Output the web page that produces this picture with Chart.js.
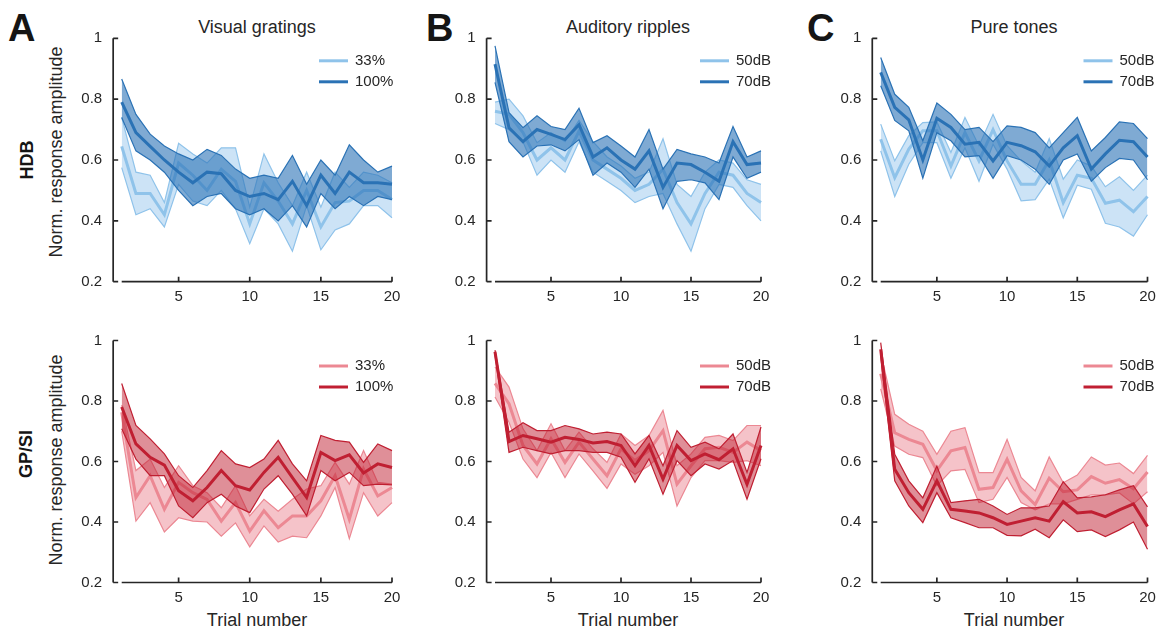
<!DOCTYPE html>
<html>
<head>
<meta charset="utf-8">
<script src="https://cdn.jsdelivr.net/npm/chart.js@4.4.1/dist/chart.umd.min.js"></script>
<style>
  html, body { margin: 0; padding: 0; background: #fff; }
  body { width: 1157px; height: 631px; position: relative; overflow: hidden;
         font-family: "Liberation Sans", Arial, sans-serif; color: #262626; }
  canvas { position: absolute; }
  .lbl { position: absolute; white-space: nowrap; line-height: 1; }
  .letter { font-size: 38px; font-weight: bold; color: #151515; }
  .title { font-size: 18px; transform: translateX(-50%); }
  .xlab { font-size: 18px; transform: translateX(-50%); }
  .ylab { font-size: 18px; transform: translate(-50%, -50%) rotate(-90deg); }
  .row { font-size: 18px; font-weight: bold; color: #151515; transform: translate(-50%, -50%) rotate(-90deg); }
</style>
</head>
<body>
<div class="lbl letter" style="left:8px;top:9px">A</div>
<div class="lbl letter" style="left:426px;top:9px">B</div>
<div class="lbl letter" style="left:807px;top:9px">C</div>

<div class="lbl title" style="left:257px;top:18px">Visual gratings</div>
<div class="lbl title" style="left:628px;top:18px">Auditory ripples</div>
<div class="lbl title" style="left:1014px;top:18px">Pure tones</div>

<div class="lbl row" style="left:27px;top:160px">HDB</div>
<div class="lbl row" style="left:26px;top:454px">GP/SI</div>
<div class="lbl ylab" style="left:56px;top:152px">Norm. response amplitude</div>
<div class="lbl ylab" style="left:56px;top:460px">Norm. response amplitude</div>

<div class="lbl xlab" style="left:257px;top:611px">Trial number</div>
<div class="lbl xlab" style="left:628px;top:611px">Trial number</div>
<div class="lbl xlab" style="left:1014px;top:611px">Trial number</div>

<script>
// Trials and axis ticks
const trials = [1, 2, 3, 4, 5, 6, 7, 8, 9, 10, 11, 12, 13, 14, 15, 16, 17, 18, 19, 20];
const xTicks = [5, 10, 15, 20];
const yTicks = [0.2, 0.4, 0.6, 0.8, 1];
const xMin = 0.4;

// HDB - visual gratings
const hdbVis33Mean  = [0.645, 0.49, 0.49, 0.42, 0.59, 0.55, 0.50, 0.57, 0.53, 0.39, 0.525, 0.465, 0.39, 0.50, 0.38, 0.46, 0.465, 0.50, 0.50, 0.47];
const hdbVis33Upper = [0.74, 0.56, 0.55, 0.46, 0.655, 0.62, 0.59, 0.64, 0.64, 0.445, 0.62, 0.525, 0.45, 0.56, 0.445, 0.56, 0.51, 0.56, 0.55, 0.525];
const hdbVis33Lower = [0.575, 0.42, 0.44, 0.38, 0.52, 0.465, 0.45, 0.50, 0.44, 0.325, 0.44, 0.39, 0.30, 0.45, 0.305, 0.37, 0.39, 0.45, 0.45, 0.41];
const hdbVis100Mean  = [0.79, 0.69, 0.645, 0.60, 0.56, 0.525, 0.56, 0.555, 0.50, 0.48, 0.49, 0.47, 0.53, 0.45, 0.55, 0.49, 0.56, 0.525, 0.525, 0.52];
const hdbVis100Upper = [0.866, 0.75, 0.685, 0.646, 0.62, 0.60, 0.635, 0.615, 0.57, 0.54, 0.55, 0.54, 0.615, 0.52, 0.60, 0.55, 0.65, 0.60, 0.56, 0.58];
const hdbVis100Lower = [0.74, 0.63, 0.60, 0.56, 0.50, 0.45, 0.48, 0.49, 0.44, 0.42, 0.44, 0.40, 0.45, 0.38, 0.49, 0.44, 0.48, 0.45, 0.48, 0.47];

// HDB - auditory ripples
const hdbRip50Mean  = [0.76, 0.75, 0.69, 0.60, 0.64, 0.60, 0.695, 0.60, 0.57, 0.54, 0.50, 0.52, 0.57, 0.46, 0.39, 0.49, 0.56, 0.55, 0.49, 0.46];
const hdbRip50Upper = [0.79, 0.80, 0.745, 0.657, 0.69, 0.66, 0.73, 0.66, 0.61, 0.58, 0.54, 0.56, 0.67, 0.52, 0.48, 0.56, 0.60, 0.59, 0.535, 0.52];
const hdbRip50Lower = [0.72, 0.70, 0.66, 0.55, 0.60, 0.56, 0.66, 0.56, 0.53, 0.50, 0.46, 0.48, 0.49, 0.39, 0.30, 0.44, 0.52, 0.51, 0.45, 0.40];
const hdbRip70Mean  = [0.915, 0.706, 0.66, 0.70, 0.684, 0.667, 0.716, 0.61, 0.64, 0.60, 0.57, 0.63, 0.51, 0.59, 0.585, 0.56, 0.53, 0.66, 0.585, 0.59];
const hdbRip70Upper = [0.975, 0.756, 0.706, 0.745, 0.71, 0.70, 0.77, 0.657, 0.68, 0.646, 0.61, 0.70, 0.57, 0.635, 0.62, 0.61, 0.59, 0.71, 0.61, 0.63];
const hdbRip70Lower = [0.855, 0.66, 0.61, 0.646, 0.65, 0.63, 0.667, 0.55, 0.59, 0.56, 0.51, 0.57, 0.44, 0.53, 0.535, 0.525, 0.47, 0.61, 0.54, 0.56];

// HDB - pure tones
const hdbTone50Mean  = [0.668, 0.542, 0.636, 0.696, 0.696, 0.58, 0.69, 0.597, 0.70, 0.597, 0.52, 0.52, 0.60, 0.46, 0.55, 0.54, 0.458, 0.468, 0.43, 0.48];
const hdbTone50Upper = [0.718, 0.597, 0.68, 0.723, 0.725, 0.625, 0.74, 0.647, 0.75, 0.647, 0.597, 0.56, 0.67, 0.537, 0.60, 0.58, 0.512, 0.545, 0.50, 0.55];
const hdbTone50Lower = [0.63, 0.48, 0.586, 0.657, 0.657, 0.54, 0.64, 0.53, 0.652, 0.57, 0.466, 0.47, 0.537, 0.41, 0.517, 0.504, 0.392, 0.38, 0.35, 0.42];
const hdbTone70Mean  = [0.888, 0.773, 0.732, 0.60, 0.737, 0.707, 0.652, 0.658, 0.597, 0.658, 0.647, 0.627, 0.58, 0.64, 0.68, 0.57, 0.62, 0.665, 0.66, 0.61];
const hdbTone70Upper = [0.937, 0.816, 0.773, 0.663, 0.787, 0.75, 0.70, 0.707, 0.66, 0.712, 0.707, 0.69, 0.64, 0.69, 0.74, 0.63, 0.674, 0.725, 0.72, 0.67];
const hdbTone70Lower = [0.844, 0.73, 0.696, 0.54, 0.69, 0.663, 0.61, 0.614, 0.54, 0.614, 0.60, 0.57, 0.52, 0.60, 0.62, 0.53, 0.575, 0.605, 0.60, 0.535];

// GP/SI - visual gratings
const gpVis33Mean  = [0.763, 0.481, 0.553, 0.442, 0.531, 0.497, 0.475, 0.403, 0.464, 0.37, 0.437, 0.381, 0.42, 0.42, 0.47, 0.553, 0.409, 0.575, 0.486, 0.514];
const gpVis33Upper = [0.786, 0.57, 0.608, 0.514, 0.586, 0.52, 0.497, 0.447, 0.52, 0.42, 0.475, 0.436, 0.475, 0.509, 0.52, 0.597, 0.525, 0.636, 0.531, 0.525];
const gpVis33Lower = [0.70, 0.403, 0.464, 0.367, 0.414, 0.403, 0.40, 0.353, 0.397, 0.318, 0.387, 0.334, 0.353, 0.348, 0.42, 0.514, 0.345, 0.497, 0.42, 0.464];
const gpVis100Mean  = [0.78, 0.658, 0.614, 0.588, 0.503, 0.47, 0.514, 0.57, 0.52, 0.506, 0.564, 0.614, 0.547, 0.481, 0.63, 0.603, 0.622, 0.562, 0.592, 0.58];
const gpVis100Upper = [0.858, 0.719, 0.675, 0.625, 0.553, 0.514, 0.57, 0.636, 0.592, 0.58, 0.608, 0.67, 0.592, 0.536, 0.686, 0.67, 0.664, 0.597, 0.658, 0.636];
const gpVis100Lower = [0.708, 0.608, 0.553, 0.553, 0.453, 0.414, 0.464, 0.492, 0.453, 0.431, 0.509, 0.553, 0.492, 0.42, 0.57, 0.536, 0.564, 0.52, 0.525, 0.523];

// GP/SI - auditory ripples
const gpRip50Mean  = [0.858, 0.791, 0.653, 0.592, 0.675, 0.597, 0.664, 0.608, 0.553, 0.642, 0.603, 0.636, 0.702, 0.525, 0.586, 0.642, 0.647, 0.63, 0.664, 0.636];
const gpRip50Upper = [0.913, 0.846, 0.708, 0.636, 0.725, 0.636, 0.697, 0.642, 0.597, 0.691, 0.653, 0.686, 0.769, 0.586, 0.625, 0.68, 0.686, 0.669, 0.719, 0.719];
const gpRip50Lower = [0.813, 0.73, 0.608, 0.547, 0.63, 0.547, 0.625, 0.569, 0.511, 0.592, 0.558, 0.586, 0.63, 0.453, 0.547, 0.603, 0.603, 0.597, 0.603, 0.586];
const gpRip70Mean  = [0.963, 0.666, 0.686, 0.675, 0.664, 0.68, 0.673, 0.661, 0.666, 0.653, 0.586, 0.653, 0.542, 0.653, 0.603, 0.625, 0.606, 0.642, 0.525, 0.653];
const gpRip70Upper = [0.968, 0.697, 0.728, 0.702, 0.702, 0.719, 0.708, 0.691, 0.697, 0.691, 0.625, 0.686, 0.586, 0.702, 0.647, 0.664, 0.642, 0.691, 0.564, 0.714];
const gpRip70Lower = [0.952, 0.63, 0.647, 0.636, 0.625, 0.636, 0.636, 0.63, 0.63, 0.614, 0.531, 0.609, 0.492, 0.603, 0.553, 0.592, 0.575, 0.603, 0.475, 0.609];

// GP/SI - pure tones
const gpTone50Mean  = [0.89, 0.695, 0.673, 0.657, 0.57, 0.635, 0.646, 0.508, 0.514, 0.607, 0.503, 0.458, 0.545, 0.50, 0.506, 0.55, 0.528, 0.54, 0.51, 0.565];
const gpTone50Upper = [0.96, 0.756, 0.723, 0.70, 0.624, 0.70, 0.712, 0.563, 0.563, 0.673, 0.547, 0.503, 0.615, 0.53, 0.555, 0.615, 0.588, 0.595, 0.56, 0.62];
const gpTone50Lower = [0.84, 0.651, 0.624, 0.613, 0.52, 0.569, 0.574, 0.464, 0.475, 0.547, 0.464, 0.44, 0.46, 0.46, 0.475, 0.49, 0.49, 0.496, 0.46, 0.50];
const gpTone70Mean  = [0.971, 0.574, 0.497, 0.442, 0.536, 0.442, 0.436, 0.43, 0.414, 0.392, 0.403, 0.414, 0.403, 0.467, 0.43, 0.434, 0.418, 0.44, 0.46, 0.385];
const gpTone70Upper = [0.993, 0.624, 0.536, 0.48, 0.585, 0.464, 0.47, 0.475, 0.453, 0.425, 0.447, 0.447, 0.453, 0.533, 0.48, 0.483, 0.49, 0.506, 0.52, 0.45];
const gpTone70Lower = [0.949, 0.536, 0.453, 0.398, 0.497, 0.414, 0.398, 0.381, 0.381, 0.356, 0.354, 0.376, 0.348, 0.407, 0.368, 0.374, 0.352, 0.374, 0.40, 0.31];

const BLUE = { light: '#8fc3ea', lightFill: 'rgba(142,194,234,0.45)', dark: '#2a72b5', darkFill: 'rgba(42,114,181,0.6)' };
const RED  = { light: '#ec8893', lightFill: 'rgba(236,136,147,0.5)', dark: '#c01f32', darkFill: 'rgba(192,31,50,0.5)' };

// Pixel geometry of each panel (t=1 / t=20 positions, top / bottom of y range, legend offset)
const cols = { A: [121.7, 392], B: [495, 761], C: [880.7, 1147.5] };
const rows = { top: [38.3, 281.7, 22.5], bottom: [340.5, 582.5, 25.5] };

const panels = [
  { col: 'A', row: 'top', pal: BLUE, labels: ['33%', '100%'], legDx: -73,
    light: [hdbVis33Mean, hdbVis33Upper, hdbVis33Lower], dark: [hdbVis100Mean, hdbVis100Upper, hdbVis100Lower] },
  { col: 'B', row: 'top', pal: BLUE, labels: ['50dB', '70dB'], legDx: -61,
    light: [hdbRip50Mean, hdbRip50Upper, hdbRip50Lower], dark: [hdbRip70Mean, hdbRip70Upper, hdbRip70Lower] },
  { col: 'C', row: 'top', pal: BLUE, labels: ['50dB', '70dB'], legDx: -64,
    light: [hdbTone50Mean, hdbTone50Upper, hdbTone50Lower], dark: [hdbTone70Mean, hdbTone70Upper, hdbTone70Lower] },
  { col: 'A', row: 'bottom', pal: RED, labels: ['33%', '100%'], legDx: -73,
    light: [gpVis33Mean, gpVis33Upper, gpVis33Lower], dark: [gpVis100Mean, gpVis100Upper, gpVis100Lower] },
  { col: 'B', row: 'bottom', pal: RED, labels: ['50dB', '70dB'], legDx: -61,
    light: [gpRip50Mean, gpRip50Upper, gpRip50Lower], dark: [gpRip70Mean, gpRip70Upper, gpRip70Lower] },
  { col: 'C', row: 'bottom', pal: RED, labels: ['50dB', '70dB'], legDx: -64,
    light: [gpTone50Mean, gpTone50Upper, gpTone50Lower], dark: [gpTone70Mean, gpTone70Upper, gpTone70Lower] },
];

// MATLAB-like detached axes + legend
const matlabAxes = {
  id: 'matlabAxes',
  afterDraw(chart, args, opts) {
    const { ctx, chartArea, scales: { x, y } } = chart;
    const yTop = y.getPixelForValue(yTicks[yTicks.length - 1]);
    const yBot = y.getPixelForValue(yTicks[0]);
    const x0 = x.getPixelForValue(trials[0]);
    const x1 = x.getPixelForValue(trials[trials.length - 1]);
    ctx.save();
    ctx.strokeStyle = '#262626';
    ctx.lineWidth = 1.7;
    ctx.beginPath();
    ctx.moveTo(chartArea.left, yTop);
    ctx.lineTo(chartArea.left, yBot);
    yTicks.forEach(v => {
      const p = y.getPixelForValue(v);
      ctx.moveTo(chartArea.left, p);
      ctx.lineTo(chartArea.left + 5, p);
    });
    ctx.moveTo(x0, yBot);
    ctx.lineTo(x1, yBot);
    xTicks.forEach(v => {
      const p = x.getPixelForValue(v);
      ctx.moveTo(p, yBot);
      ctx.lineTo(p, yBot - 5);
    });
    ctx.stroke();

    // legend
    const lx = chartArea.right + opts.dx;
    ctx.font = '15px "Liberation Sans", Arial, sans-serif';
    ctx.textBaseline = 'middle';
    ctx.fillStyle = '#262626';
    ctx.lineWidth = 3;
    opts.items.forEach((it, i) => {
      const ly = chartArea.top + opts.dy + i * 21;
      ctx.strokeStyle = it.color;
      ctx.beginPath();
      ctx.moveTo(lx, ly);
      ctx.lineTo(lx + 29, ly);
      ctx.stroke();
      ctx.fillText(it.text, lx + 36, ly);
    });
    ctx.restore();
  }
};

function pts(arr) {
  return trials.map((t, i) => ({ x: t, y: arr[i] }));
}

function bandSets(series, line, fill, baseOrder) {
  const [mean, upper, lower] = series;
  return [
    { data: pts(lower), borderColor: line, borderWidth: 1.2, pointRadius: 0, fill: false, order: baseOrder + 2, clip: false },
    { data: pts(upper), borderColor: line, borderWidth: 1.2, pointRadius: 0, fill: '-1', backgroundColor: fill, order: baseOrder + 1, clip: false },
    { data: pts(mean), borderColor: line, borderWidth: 3, pointRadius: 0, fill: false, order: baseOrder, clip: false },
  ];
}

function mount(p) {
  const [x1px, x20px] = cols[p.col];
  const [topPx, botPx, legDy] = rows[p.row];
  const step = (x20px - x1px) / (trials[trials.length - 1] - trials[0]);
  const axisX = x1px - (trials[0] - xMin) * step;

  // generous margins so tick-label padding never shrinks the plot area
  const left = Math.floor(axisX - 60);
  const top = Math.floor(topPx - 28);
  const width = Math.ceil(x20px + 24 - left);
  const height = Math.ceil(botPx + 34 - top);
  const leftW = axisX - left;
  const padTop = topPx - top;
  const padRight = width - (x20px - left);
  const bottomH = height - (botPx - top);

  const cv = document.createElement('canvas');
  cv.width = width; cv.height = height;
  cv.style.left = left + 'px'; cv.style.top = top + 'px';
  cv.style.width = width + 'px'; cv.style.height = height + 'px';
  document.body.appendChild(cv);

  const tickFont = { family: '"Liberation Sans", Arial, sans-serif', size: 15 };

  new Chart(cv, {
    type: 'line',
    data: {
      datasets: [
        ...bandSets(p.dark, p.pal.dark, p.pal.darkFill, 0),
        ...bandSets(p.light, p.pal.light, p.pal.lightFill, 3),
      ]
    },
    options: {
      responsive: false,
      animation: false,
      devicePixelRatio: 1,
      layout: { padding: { left: 0, top: padTop, right: padRight, bottom: 0 } },
      elements: { line: { tension: 0 } },
      plugins: {
        legend: { display: false },
        tooltip: { enabled: false },
        matlabAxes: {
          dx: p.legDx, dy: legDy,
          items: [{ text: p.labels[0], color: p.pal.light }, { text: p.labels[1], color: p.pal.dark }]
        }
      },
      scales: {
        x: {
          type: 'linear', min: xMin, max: trials[trials.length - 1],
          grid: { display: false, drawTicks: false },
          border: { display: false },
          ticks: { color: '#262626', font: tickFont, padding: 6, maxRotation: 0, callback: v => String(v) },
          afterBuildTicks: s => { s.ticks = xTicks.map(v => ({ value: v })); },
          afterFit: s => { s.height = bottomH; }
        },
        y: {
          min: yTicks[0], max: yTicks[yTicks.length - 1],
          grid: { display: false, drawTicks: false },
          border: { display: false },
          ticks: { color: '#262626', font: tickFont, padding: 11, callback: v => String(v) },
          afterBuildTicks: s => { s.ticks = yTicks.map(v => ({ value: v })); },
          afterFit: s => { s.width = leftW; }
        }
      }
    },
    plugins: [matlabAxes]
  });
}

panels.forEach(mount);
</script>
</body>
</html>
